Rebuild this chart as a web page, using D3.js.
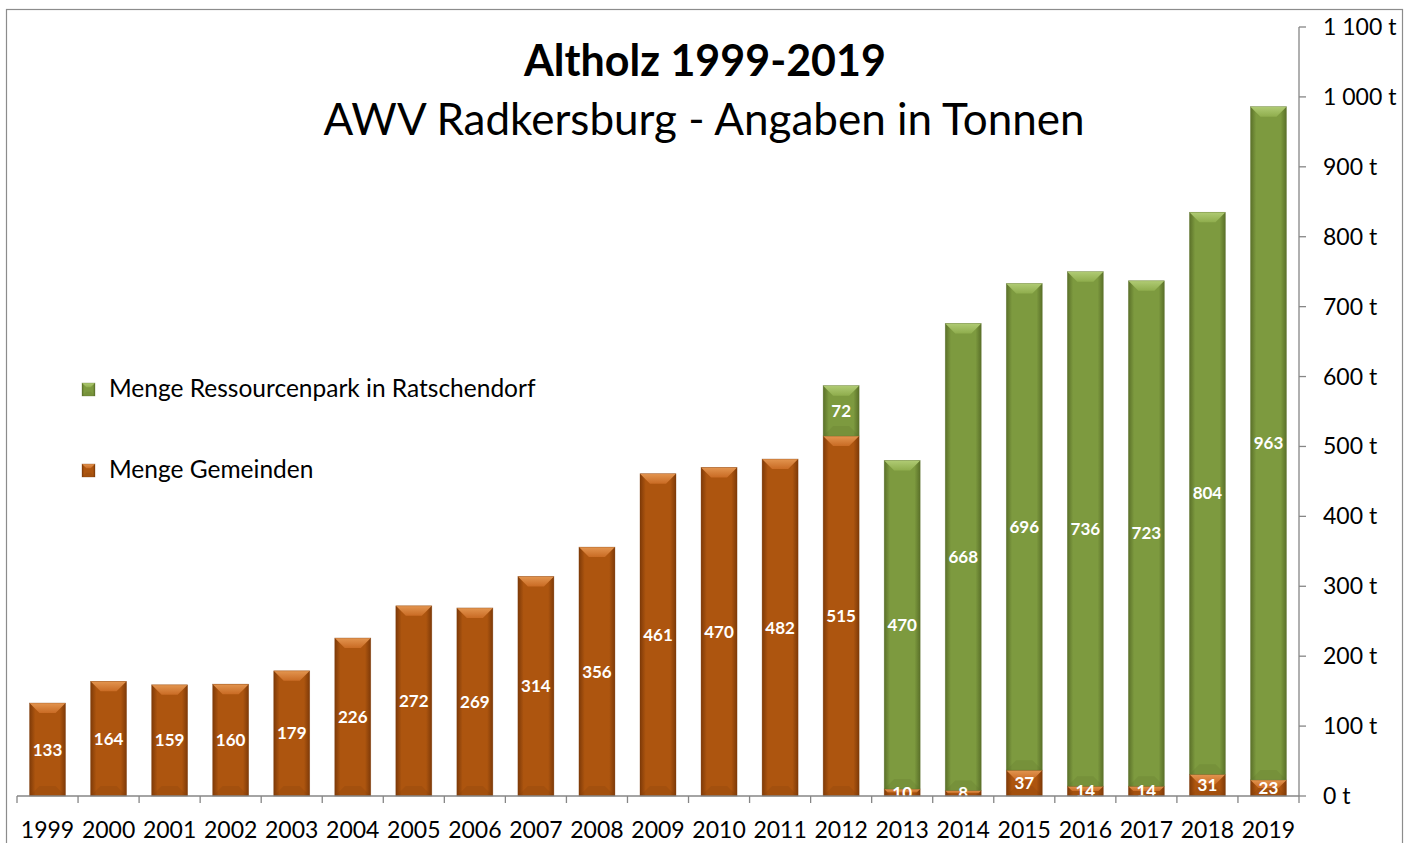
<!DOCTYPE html>
<html>
<head>
<title>Altholz 1999-2019</title>
<style>
body { margin: 0; background: #fff; }
</style>
</head>
<body>
<div id="chart"></div>
<script src="https://d3js.org/d3.v7.min.js"></script>
<script>
const years = ["1999","2000","2001","2002","2003","2004","2005","2006","2007","2008","2009","2010","2011","2012","2013","2014","2015","2016","2017","2018","2019"];
const gemeinden = [133,164,159,160,179,226,272,269,314,356,461,470,482,515,10,8,37,14,14,31,23];
const ressourcenpark = [0,0,0,0,0,0,0,0,0,0,0,0,0,72,470,668,696,736,723,804,963];
const yTicks = [0,100,200,300,400,500,600,700,800,900,1000,1100];

const width = 1419, height = 843;
const font = "Lato, 'Open Sans', sans-serif";

const svg = d3.select("#chart").append("svg")
  .attr("width", width)
  .attr("height", height);

svg.append("rect").attr("width", width).attr("height", height).attr("fill", "#fff");

// outer border
svg.append("rect")
  .attr("x", 6.5).attr("y", 9.5)
  .attr("width", 1396).attr("height", 860)
  .attr("fill", "none").attr("stroke", "#8c8c8c").attr("stroke-width", 1.2);

const x = d3.scaleBand().domain(years).range([17, 1299]).paddingInner(0.41).paddingOuter(0.205);
const y = d3.scaleLinear().domain([0, 1100]).range([796, 27]);

// gradients
const defs = svg.append("defs");
const palettes = {
  orange: { edge: "#7e3a08", mid: "#ad550f", light: "#e39550", lightMid: "#c96b24" },
  green:  { edge: "#5a7029", mid: "#7d9a3f", light: "#b0cb74", lightMid: "#8fad4d" }
};
Object.entries(palettes).forEach(([k, p]) => {
  const g = defs.append("linearGradient").attr("id", "body-" + k).attr("x1", 0).attr("x2", 1).attr("y1", 0).attr("y2", 0);
  g.append("stop").attr("offset", "0%").attr("stop-color", p.edge);
  g.append("stop").attr("offset", "16%").attr("stop-color", p.mid);
  g.append("stop").attr("offset", "84%").attr("stop-color", p.mid);
  g.append("stop").attr("offset", "100%").attr("stop-color", p.edge);
  const t = defs.append("linearGradient").attr("id", "top-" + k).attr("x1", 0).attr("x2", 0).attr("y1", 0).attr("y2", 1);
  t.append("stop").attr("offset", "0%").attr("stop-color", p.light);
  t.append("stop").attr("offset", "100%").attr("stop-color", p.lightMid);
});

function bevelBar(g, x0, y0, w, h, key, maxB = 10) {
  const p = palettes[key];
  g.append("rect").attr("x", x0).attr("y", y0).attr("width", w).attr("height", h)
    .attr("fill", `url(#body-${key})`);
  const b = Math.min(maxB, h / 2, w / 3);
  g.append("path")
    .attr("d", `M${x0},${y0} L${x0 + w},${y0} L${x0 + w - b},${y0 + b} L${x0 + b},${y0 + b} Z`)
    .attr("fill", `url(#top-${key})`);
  g.append("path")
    .attr("d", `M${x0},${y0 + h} L${x0 + w},${y0 + h} L${x0 + w - b},${y0 + h - b} L${x0 + b},${y0 + h - b} Z`)
    .attr("fill", p.edge).attr("opacity", 0.2);
  g.append("rect").attr("x", x0).attr("y", y0).attr("width", w).attr("height", h)
    .attr("fill", "none").attr("stroke", p.edge).attr("stroke-width", 0.6).attr("opacity", 0.5);
}

const bars = svg.append("g");
years.forEach((yr, i) => {
  const g0 = gemeinden[i], r = ressourcenpark[i];
  bevelBar(bars, x(yr), y(g0), x.bandwidth(), y(0) - y(g0), "orange");
  if (r > 0) bevelBar(bars, x(yr), y(g0 + r), x.bandwidth(), y(g0) - y(g0 + r), "green");
});

// value labels
const labels = svg.append("g")
  .attr("font-family", font)
  .attr("font-weight", "bold").attr("font-size", 17).attr("fill", "#fff")
  .attr("text-anchor", "middle");
years.forEach((yr, i) => {
  const g0 = gemeinden[i], r = ressourcenpark[i];
  labels.append("text").attr("x", x(yr) + x.bandwidth() / 2).attr("y", y(g0 / 2) + 6).text(g0);
  if (r > 0) labels.append("text").attr("x", x(yr) + x.bandwidth() / 2).attr("y", y(g0 + r / 2) + 6).text(r);
});

// x axis
const xAxis = svg.append("g");
xAxis.append("line").attr("x1", 17).attr("x2", 1299).attr("y1", 796).attr("y2", 796)
  .attr("stroke", "#868686").attr("stroke-width", 1.3);
const step = x.step();
d3.range(years.length + 1).forEach(i => {
  const xx = 17 + i * step;
  xAxis.append("line").attr("x1", xx).attr("x2", xx).attr("y1", 796).attr("y2", 803)
    .attr("stroke", "#868686").attr("stroke-width", 1.3);
});
xAxis.selectAll("text.yr").data(years).join("text")
  .attr("x", d => x(d) + x.bandwidth() / 2).attr("y", 838)
  .attr("text-anchor", "middle").attr("font-family", font).attr("font-size", 23).attr("fill", "#000")
  .text(d => d);

// y axis on the right
const fmt = v => (v >= 1000 ? d3.format(",")(v).replace(",", " ") : v) + " t";
const yAxis = svg.append("g");
yAxis.append("line").attr("x1", 1299).attr("x2", 1299).attr("y1", y(1100)).attr("y2", 796)
  .attr("stroke", "#868686").attr("stroke-width", 1.3);
yAxis.selectAll("line.tk").data(yTicks).join("line")
  .attr("x1", 1299).attr("x2", 1306).attr("y1", d => y(d)).attr("y2", d => y(d))
  .attr("stroke", "#868686").attr("stroke-width", 1.3);
yAxis.selectAll("text").data(yTicks).join("text")
  .attr("x", 1323).attr("y", d => y(d) + 8)
  .attr("font-family", font).attr("font-size", 23).attr("fill", "#000")
  .text(fmt);

// title
svg.append("text").attr("x", 705).attr("y", 76).attr("text-anchor", "middle")
  .attr("font-family", font).attr("font-weight", "bold").attr("font-size", 43).attr("fill", "#000")
  .text("Altholz 1999-2019");
svg.append("text").attr("x", 704).attr("y", 135).attr("text-anchor", "middle")
  .attr("font-family", font).attr("font-size", 44).attr("fill", "#000")
  .text("AWV Radkersburg - Angaben in Tonnen");

// legend
const legendItems = [
  { label: "Menge Ressourcenpark in Ratschendorf", key: "green", y: 389 },
  { label: "Menge Gemeinden", key: "orange", y: 470 }
];
legendItems.forEach(it => {
  bevelBar(svg, 82, it.y - 6, 13, 13, it.key, 5);
  svg.append("text").attr("x", 109).attr("y", it.y + 8)
    .attr("font-family", font).attr("font-size", 24.5).attr("fill", "#000").text(it.label);
});
</script>
</body>
</html>
